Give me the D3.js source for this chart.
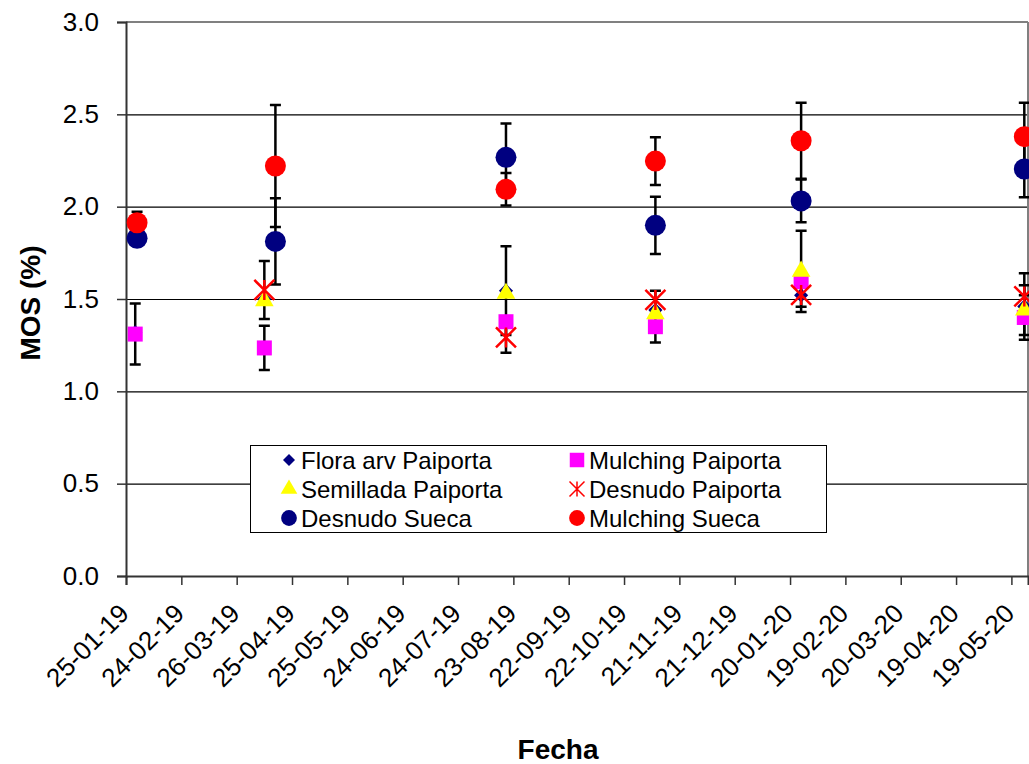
<!DOCTYPE html>
<html>
<head>
<meta charset="utf-8">
<script src="https://cdn.jsdelivr.net/npm/d3@7"></script>
<style>
  body { margin: 0; background: #ffffff; }
  text { font-family: Arial, "Liberation Sans", sans-serif; }
</style>
</head>
<body>
<svg id="grafico" width="1029" height="764"></svg>
<script>
// Nombres de las series (orden de la leyenda)
var nombresSeries = ["Flora arv Paiporta", "Mulching Paiporta", "Semillada Paiporta",
                     "Desnudo Paiporta", "Desnudo Sueca", "Mulching Sueca"];

// Fechas de muestreo
var fechasPaiporta = ["2019-01-30", "2019-04-10", "2019-08-19", "2019-11-08", "2020-01-26", "2020-05-26"];
var fechasSueca    = ["2019-01-31", "2019-04-16", "2019-08-19", "2019-11-08", "2020-01-26", "2020-05-26"];

// Valores de MOS (%) y su error (null = sin dato)
var floraArv        = [1.32, 1.50, 1.545, 1.44, 1.52, 1.46];
var floraArvErr     = [0, 0, 0.24, 0, 0, 0];
var mulchingPai     = [1.31, 1.235, 1.377, 1.35, 1.594, 1.40];
var mulchingPaiErr  = [0.165, 0.12, 0, 0.085, 0, 0.12];
var semillada       = [null, 1.49, 1.53, 1.42, 1.65, 1.44];
var semilladaErr    = [0, 0, 0, 0, 0.22, 0.135];
var desnudoPai      = [null, 1.549, 1.292, 1.495, 1.522, 1.514];
var desnudoPaiErr   = [0, 0.157, 0.083, 0.05, 0.064, 0.125];
var desnudoSueca    = [1.829, 1.812, 2.267, 1.899, 2.031, 2.204];
var desnudoSuecaErr = [0.04, 0.234, 0.184, 0.155, 0.116, 0.153];
var mulchingSueca   = [1.913, 2.220, 2.094, 2.247, 2.357, 2.379];
var mulchingSuecaErr= [0.06, 0.33, 0.088, 0.129, 0.206, 0.184];

// Etiquetas del eje X (cada 30 dias) y del eje Y
var etiquetasFecha = ["25-01-19", "24-02-19", "26-03-19", "25-04-19", "25-05-19", "24-06-19",
                      "24-07-19", "23-08-19", "22-09-19", "22-10-19", "21-11-19", "21-12-19",
                      "20-01-20", "19-02-20", "20-03-20", "19-04-20", "19-05-20"];
var valoresY = [0, 0.5, 1.0, 1.5, 2.0, 2.5, 3.0];

var parseISO = d3.utcParse("%Y-%m-%d");
var parseEtiqueta = d3.utcParse("%d-%m-%y");
var formatoFecha = d3.utcFormat("%d-%m-%y");

var svg = d3.select("#grafico");
var izq = 126, der = 1028, arriba = 22, abajo = 576;

var x = d3.scaleUtc()
    .domain([parseEtiqueta("25-01-19"), parseISO("2020-05-28")])
    .range([izq, der]);
var y = d3.scaleLinear().domain([0, 3]).range([abajo, arriba]);

// Lineas de cuadricula horizontales
svg.append("g")
    .attr("transform", "translate(" + izq + ",0)")
    .call(d3.axisLeft(y).tickValues(valoresY.slice(1, 6)).tickSize(-(der - izq)).tickFormat(""))
    .call(g => g.select(".domain").remove())
    .selectAll("line").attr("stroke", "#000").attr("stroke-width", 1.2);

// Borde superior y derecho del area de trazado
svg.append("line").attr("x1", izq).attr("x2", der).attr("y1", y(3)).attr("y2", y(3))
    .attr("stroke", "#808080").attr("stroke-width", 2);
svg.append("line").attr("x1", der).attr("x2", der).attr("y1", arriba).attr("y2", abajo)
    .attr("stroke", "#808080").attr("stroke-width", 2);

// Eje Y
var ejeY = svg.append("g")
    .attr("transform", "translate(" + izq + ",0)")
    .call(d3.axisLeft(y).tickValues(valoresY).tickSize(9).tickPadding(18).tickFormat(d3.format(".1f")));
ejeY.select(".domain").attr("stroke", "#333").attr("stroke-width", 2);
ejeY.selectAll(".tick line").attr("stroke", "#333").attr("stroke-width", 1.5);
ejeY.selectAll("text").attr("font-size", 26).attr("fill", "#000")
    .attr("font-family", "Arial, 'Liberation Sans', sans-serif");

// Eje X
var ejeX = svg.append("g")
    .attr("transform", "translate(0," + abajo + ")")
    .call(d3.axisBottom(x).tickValues(etiquetasFecha.map(parseEtiqueta)).tickSize(9).tickFormat(formatoFecha));
ejeX.select(".domain").attr("stroke", "#333").attr("stroke-width", 2);
ejeX.selectAll(".tick line").attr("stroke", "#333").attr("stroke-width", 1.5);
ejeX.selectAll("text")
    .attr("font-size", 26).attr("fill", "#000")
    .attr("font-family", "Arial, 'Liberation Sans', sans-serif")
    .attr("text-anchor", "end")
    .attr("y", 0).attr("dy", 0)
    .attr("transform", "translate(4,39) rotate(-45)");

// Titulos de los ejes
svg.append("text")
    .attr("transform", "translate(40,303) rotate(-90)")
    .attr("text-anchor", "middle")
    .attr("font-size", 28).attr("font-weight", "bold")
    .text("MOS (%)");
svg.append("text")
    .attr("x", 558).attr("y", 759)
    .attr("text-anchor", "middle")
    .attr("font-size", 28).attr("font-weight", "bold")
    .text("Fecha");

// Simbolos de cada serie
var simbolos = {
    "Flora arv Paiporta": { tipo: d3.symbolSquare, giro: 45, color: "#000080", area: 100, areaLey: 72 },
    "Mulching Paiporta":  { tipo: d3.symbolSquare,  color: "#FF00FF", area: 225, areaLey: 210 },
    "Semillada Paiporta": { tipo: d3.symbolTriangle, color: "#FFFF00", area: 150, areaLey: 120 },
    "Desnudo Paiporta":   { tipo: "asterisco", color: "#FF0000", tam: 10, tamLey: 7.5 },
    "Desnudo Sueca":      { tipo: d3.symbolCircle, color: "#000080", area: 346, areaLey: 195 },
    "Mulching Sueca":     { tipo: d3.symbolCircle, color: "#FF0000", area: 346, areaLey: 195 }
};

function dibujarSimbolo(g, nombre, cx, cy, leyenda) {
    var s = simbolos[nombre];
    if (s.tipo === "asterisco") {
        var t = leyenda ? s.tamLey : s.tam;
        var p = d3.path();
        p.moveTo(cx - t, cy - t); p.lineTo(cx + t, cy + t);
        p.moveTo(cx - t, cy + t); p.lineTo(cx + t, cy - t);
        p.moveTo(cx, cy - t); p.lineTo(cx, cy + t);
        g.append("path").attr("d", p.toString())
            .attr("stroke", s.color).attr("stroke-width", leyenda ? 1.5 : 2.5).attr("fill", "none");
    } else {
        g.append("path")
            .attr("d", d3.symbol().type(s.tipo).size(leyenda ? s.areaLey : s.area)())
            .attr("transform", "translate(" + cx + "," + cy + ")" + (s.giro ? " rotate(" + s.giro + ")" : ""))
            .attr("fill", s.color);
    }
}

// Tabla de series construida a partir de los arreglos
var datosSeries = [
    { nombre: nombresSeries[0], fechas: fechasPaiporta, valores: floraArv, errores: floraArvErr },
    { nombre: nombresSeries[1], fechas: fechasPaiporta, valores: mulchingPai, errores: mulchingPaiErr },
    { nombre: nombresSeries[2], fechas: fechasPaiporta, valores: semillada, errores: semilladaErr },
    { nombre: nombresSeries[3], fechas: fechasPaiporta, valores: desnudoPai, errores: desnudoPaiErr },
    { nombre: nombresSeries[4], fechas: fechasSueca, valores: desnudoSueca, errores: desnudoSuecaErr },
    { nombre: nombresSeries[5], fechas: fechasSueca, valores: mulchingSueca, errores: mulchingSuecaErr }
];

// Barras de error (debajo de los marcadores)
var gErr = svg.append("g");
datosSeries.forEach(function(serie) {
    serie.valores.forEach(function(v, i) {
        var e = serie.errores[i];
        if (v === null || !e) return;
        var cx = x(parseISO(serie.fechas[i]));
        var p = d3.path();
        p.moveTo(cx, y(v + e)); p.lineTo(cx, y(v - e));
        p.moveTo(cx - 5.5, y(v + e)); p.lineTo(cx + 5.5, y(v + e));
        p.moveTo(cx - 5.5, y(v - e)); p.lineTo(cx + 5.5, y(v - e));
        gErr.append("path").attr("d", p.toString())
            .attr("stroke", "#000").attr("stroke-width", 2.5).attr("fill", "none");
    });
});

// Marcadores
var gMarc = svg.append("g");
datosSeries.forEach(function(serie) {
    serie.valores.forEach(function(v, i) {
        if (v === null) return;
        dibujarSimbolo(gMarc, serie.nombre, x(parseISO(serie.fechas[i])), y(v), false);
    });
});

// Leyenda
var ley = svg.append("g");
ley.append("rect")
    .attr("x", 250.5).attr("y", 445.5).attr("width", 576).attr("height", 87)
    .attr("fill", "#fff").attr("stroke", "#000").attr("stroke-width", 1);
nombresSeries.forEach(function(nombre, i) {
    var col = i % 2, fila = Math.floor(i / 2);
    var mx = col === 0 ? 289 : 577;
    var my = 460 + fila * 29;
    dibujarSimbolo(ley, nombre, mx, my, true);
    ley.append("text")
        .attr("x", mx + 12).attr("y", my).attr("dy", "0.36em")
        .attr("font-size", 24).attr("fill", "#000")
        .text(nombre);
});
</script>
</body>
</html>
